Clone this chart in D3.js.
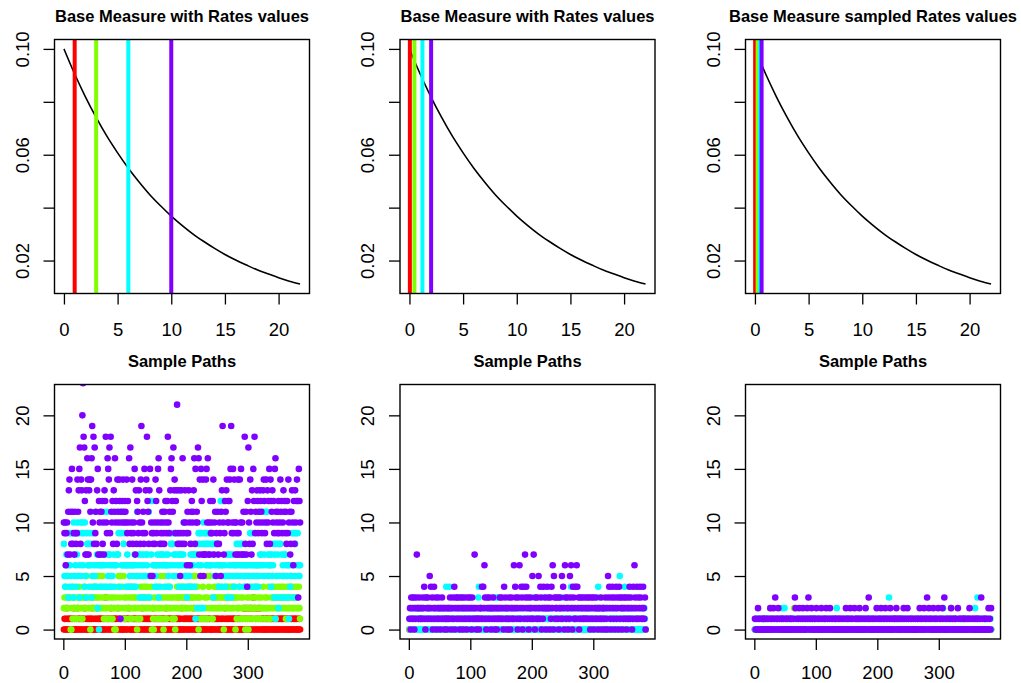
<!DOCTYPE html>
<html lang="en">
<head>
<meta charset="UTF-8">
<title>Base Measure and Sample Paths</title>
<script src="https://d3js.org/d3.v7.min.js"></script>
<style>
  body { margin: 0; background: #fff; }
  svg text { font-family: "Liberation Sans", Arial, Helvetica, sans-serif; }
</style>
</head>
<body>
<div id="chart"></div>
<script>
// colours: rainbow(4)
const colors = ["#FF0000", "#80FF00", "#00FFFF", "#8000FF"];

const topTitles = ["Base Measure with Rates values", "Base Measure with Rates values", "Base Measure sampled Rates values"];
const bottomTitle = "Sample Paths";

// rate values drawn as vertical lines
const rates1 = [1, 3, 6, 10];
const rates2 = [0.04, 0.46, 1.21, 2.02];
const rates3 = [0.02, 0.25, 0.47, 0.62];

// base measure density
const densX = [0, 1, 2, 3, 4, 5, 6, 7, 8, 9, 10, 11, 12, 13, 14, 15, 16, 17, 18, 19, 20, 21, 22];
const densY = [0.1, 0.0905, 0.0819, 0.0741, 0.067, 0.0607, 0.0549, 0.0497, 0.0449, 0.0407, 0.0368,
               0.0333, 0.0301, 0.0273, 0.0247, 0.0223, 0.0202, 0.0183, 0.0165, 0.015, 0.0135, 0.0122, 0.0111];

const topXTicks = [0, 5, 10, 15, 20];
const topYTicks = [0.02, 0.04, 0.06, 0.08, 0.10];
const topYLabels = ["0.02", "", "0.06", "", "0.10"];
const pathXTicks = [0, 100, 200, 300];
const pathYTicks = [0, 5, 10, 15, 20];
const pathYLabels = ["0", "5", "10", "15", "20"];
const pathYLim = [0, 22];

// sample paths, one character per time step (base 36: a=10, b=11 ...)
const p1Red =
  "0101021010" + "1010102100" + "1020110101" + "0110201010" + "1010112010" +
  "0101201101" + "1010101031" + "0110102101" + "0101101021" + "1010100110" +
  "1010112010" + "0101011010" + "1011010210" + "1010101101" + "0101021010" +
  "1010101011" + "0101012010" + "1010101101" + "0101101010" + "1020101011" +
  "0101011010" + "1201010101" + "0101010010" + "1001101100" + "0101011010" +
  "1100100110" + "0120101010" + "1010101101" + "0011010100" + "0120210210" +
  "2012021032" + "0210201202" + "1001100101" + "0101010110" + "0110010101" +
  "0101101010" + "1010101001" + "1001011010" + "01010";
const p1Green =
  "2324235233" + "3002143321" + "2132243123" + "1232432532" + "6230243234" +
  "2342352342" + "5235213213" + "2137142321" + "3202037245" + "2351241532" +
  "1324223142" + "3124322310" + "2132143234" + "2342324325" + "3240210326" +
  "2132412531" + "2305213124" + "3242321312" + "1032432342" + "3243234232" +
  "2343243243" + "3524532430" + "2315214513" + "2153124562" + "1312342324" +
  "3243234623" + "0324323423" + "2432432340" + "3123224132" + "1321402132" +
  "0132242132" + "2134612312" + "1322421322" + "3214261324" + "3243123423" +
  "2432342342" + "3124323423" + "4232432342" + "32421";
const p1Cyan =
  "8546756394" + "695493a756" + "47a5936a59" + "a694a53986" + "8496835964" +
  "5b64726076" + "46746b7464" + "b756475645" + "6746c6b779" + "c4b96b6896" +
  "6467646546" + "465647645b" + "5673576357" + "65375675b3" + "5c75c65645" +
  "6476367467" + "76b4676467" + "5649869857" + "6975967467" + "57647a5654" +
  "3564567467" + "6747178269" + "8926982a98" + "9689689698" + "6873856858" +
  "5646bc564c" + "c564573576" + "5736574656" + "5865846586" + "8564565645" +
  "6549659654" + "5645654657" + "67b56b75b6" + "b576576475" + "6837185372" +
  "8583756375" + "7635631645" + "5963958963" + "95656";
const p1Purple =
  "a9a69a7bde" + "7b8fb897b9" + "89ebdfh8ed" + "knihc7d7ge" + "7debegjai8" +
  "h9b8df7cab" + "7bc8a7dcia" + "9gfeh9ibac" + "8dbgac8eba" + "ec1bacebac" +
  "bae9cag8h9" + "ae89af7d8c" + "b9da8eja9b" + "8f9deicb8d" + "f5a9589a8e" +
  "c9afgd8a98" + "ba98bca9ci" + "a9bdfgcbhd" + "e9cdl89d85" + "9d8g9a8da9" +
  "6b9da68bca" + "bdg8fabahg" + "7e5fc7e577" + "7efag7a7c9" + "a9ce7ab598" +
  "b78a95bdja" + "79cbdeacac" + "efj9af9ea7" + "a97e97eaf7" + "a7b7i8b74c" +
  "ha8eb7d8fc" + "i9badc9bad" + "cb9adec9ae" + "8dacf8ecbd" + "ac9fgba9bc" +
  "9aebc9adbc" + "9b8c9eab78" + "bda6c8dace" + "c3fca";

const p2Red =
  "0000000000" + "0000010000" + "0000000000" + "0000000001" + "0000000000" +
  "0000000000" + "0100000000" + "0000000000" + "0000001000" + "0000000000" +
  "0000000000" + "0000000000" + "0010000000" + "0000000000" + "0000000000" +
  "0000000100" + "0000000000" + "0000000000" + "0000000000" + "1000000000" +
  "0000000000" + "0000000000" + "0000010000" + "0000000000" + "0000000000" +
  "0000000000" + "0000000001" + "0000000000" + "0000000000" + "0000000000" +
  "0000000000" + "0001000000" + "0000000000" + "0000000000" + "0000000000" +
  "0000000100" + "0000000000" + "0000000000" + "00000";
const p2Green =
  "0100020010" + "1000100200" + "0010010001" + "0200100010" + "0001001200" +
  "1000010010" + "0010200001" + "0100100010" + "0001000210" + "1000100100" +
  "0020010001" + "0100001020" + "0001000100" + "1002000010" + "0100100001" +
  "0010010200" + "1000001010" + "0100200001" + "0010010100" + "0001002000" +
  "1000100010" + "0210000100" + "0001010002" + "0100100010" + "0010000201" +
  "1000100010" + "0100020001" + "0001001000" + "0010100200" + "1000001010" +
  "0020010000" + "0100300100" + "0001001020" + "1000100001" + "0010020100" +
  "0100001001" + "0001010200" + "1000100010" + "01000";
const p2Cyan =
  "1021013012" + "0112010102" + "1021103101" + "2011021010" + "1201102101" +
  "0121010211" + "4102140120" + "1102101301" + "2011021012" + "0110210110" +
  "1201012101" + "0134102101" + "1021011020" + "1201012031" + "0231031021" +
  "1012010210" + "2101102101" + "0120110210" + "1012011021" + "0101201102" +
  "1013021011" + "0210120103" + "1102101120" + "1021011021" + "0110210103" +
  "1021011201" + "0124101201" + "1021012120" + "0102010020" + "1201102101" +
  "0121013410" + "2101201102" + "1021020110" + "1201012101" + "0151021012" +
  "4101201102" + "1021010100" + "1002010012" + "10210";
const p2Purple =
  "1203121302" + "1372213211" + "2132410321" + "3215241302" + "4123012312" +
  "0213212012" + "1021213201" + "2314023123" + "1203123021" + "3210231231" +
  "2031217210" + "1210122141" + "4263102312" + "3120213210" + "2102121321" +
  "3210423120" + "1231023121" + "6243120316" + "2143024173" + "4213021321" +
  "5172031231" + "5214302142" + "2302423203" + "1426053123" + "2130231251" +
  "4206312302" + "1536204312" + "4164230132" + "1321132113" + "2132013213" +
  "0213212021" + "2310221203" + "1205342103" + "4213024132" + "0431230213" +
  "2130213241" + "3201426312" + "4131243121" + "42130";

const p3Red =
  "0000000000" + "0000000000" + "0000001000" + "0000000000" + "0000000000" +
  "0000000000" + "0000000000" + "0000000000" + "0000000000" + "0001000000" +
  "0000000000" + "0000000000" + "0000000000" + "0000000000" + "0000000000" +
  "0000000000" + "0000000010" + "0000000000" + "0000000000" + "0000000000" +
  "0000000000" + "0000000000" + "0000000000" + "0100000000" + "0000000000" +
  "0000000000" + "0000000000" + "0000000000" + "0000000000" + "0000000000" +
  "0000010000" + "0000000000" + "0000000000" + "0000000000" + "0000000000" +
  "0000000000" + "0000000000" + "0000000000" + "00000";
const p3Green =
  "0000100000" + "0001000010" + "0000020000" + "1000000100" + "0000100000" +
  "0010000001" + "0000200000" + "0100000010" + "0000010000" + "1000000100" +
  "0001000000" + "0000100001" + "0000000000" + "0100001000" + "0000000100" +
  "0010000000" + "0000100000" + "1000000010" + "0000010000" + "0100000000" +
  "0000100000" + "0010000001" + "0000010000" + "1000000100" + "0000000000" +
  "0001000010" + "0000100000" + "0100000000" + "0000001000" + "0010000000" +
  "0000100001" + "0000000002" + "0100000000" + "0000010000" + "1000000100" +
  "0000000000" + "0010000010" + "0000100000" + "00000";
const p3Cyan =
  "0100010010" + "0010100001" + "1000100100" + "0010001000" + "0100201020" +
  "0001000100" + "1000100001" + "0100010010" + "0010001000" + "1000100100" +
  "0100010001" + "0010100000" + "1000010010" + "0102000100" + "0000100010" +
  "1001000100" + "0000010001" + "0100100000" + "1000010100" + "0010000001" +
  "0100100010" + "0000100030" + "1001000100" + "0000100001" + "0011000100" +
  "1000010000" + "0100100010" + "0001000100" + "1000100001" + "0010001000" +
  "0100002010" + "1000100001" + "0010010000" + "0100001001" + "1000100010" +
  "0010000120" + "0130010000" + "1000100100" + "01010";
const p3Purple =
  "1010021010" + "0100110100" + "1010021001" + "2013010120" + "1001101001" +
  "0101001010" + "1001032010" + "0120100120" + "1001021301" + "0120100110" +
  "2010100120" + "1001012010" + "0120101001" + "0101001010" + "1001010021" +
  "0100120101" + "0021010010" + "2100101001" + "2010130100" + "1010010120" +
  "0101021001" + "0120101001" + "2010010110" + "2100101010" + "0120100120" +
  "1001010010" + "0100101021" + "0100120101" + "3012010100" + "2100101020" +
  "1010021030" + "0101001012" + "0100101100" + "2010100101" + "0101001012" +
  "0100101001" + "0101001030" + "1001010010" + "20102";

const topRates = [rates1, rates2, rates3];
const bottomPaths = [
  [p1Red, p1Green, p1Cyan, p1Purple],
  [p2Red, p2Green, p2Cyan, p2Purple],
  [p3Red, p3Green, p3Cyan, p3Purple]
];

const colLeft = [54.5, 400, 745.5];
const boxW = 255;
const rowBox = [{top: 39.5, bottom: 293.5, labelPad: 18.5},
                {top: 384.5, bottom: 639, labelPad: 15.4}];
const tickLen = 11;

const svg = d3.select("#chart").append("svg")
    .attr("width", 1021)
    .attr("height", 683);

// R style 4% padding of the data range
function padded(lo, hi) {
  const d = (hi - lo) * 0.04;
  return [lo - d, hi + d];
}

const parsePath = s => Array.from(s, c => parseInt(c, 36));

function clipFor(id, left, b) {
  svg.append("clipPath").attr("id", id)
    .append("rect")
      .attr("x", left).attr("y", b.top)
      .attr("width", boxW).attr("height", b.bottom - b.top);
  return `url(#${id})`;
}

function drawFrame(i, r, x, y, title, xTicks, yTicks, yLabels) {
  const left = colLeft[i], b = rowBox[r];

  svg.append("text")
      .attr("x", left + boxW / 2)
      .attr("y", b.top - 18)
      .attr("text-anchor", "middle")
      .style("font-weight", "bold")
      .style("font-size", "16.5px")
      .text(title);

  const gx = svg.append("g")
      .attr("transform", `translate(0,${b.bottom})`)
      .call(d3.axisBottom(x).tickValues(xTicks).tickSize(tickLen).tickPadding(b.labelPad).tickFormat(d3.format("d")));
  gx.select(".domain").remove();

  const gy = svg.append("g")
      .attr("transform", `translate(${left},0)`)
      .call(d3.axisLeft(y).tickValues(yTicks).tickSize(tickLen).tickFormat((d, k) => yLabels[k]));
  gy.select(".domain").remove();
  gy.selectAll(".tick text")
      .attr("x", null)
      .attr("dy", null)
      .attr("transform", "translate(-26,0) rotate(-90)")
      .attr("text-anchor", "middle");

  [gx, gy].forEach(g => {
    g.attr("font-size", 18.5).attr("font-family", null);
    g.selectAll(".tick line").attr("stroke", "#000").attr("stroke-width", 1.3);
    g.selectAll(".tick text").attr("fill", "#000");
  });

  svg.append("rect")
      .attr("x", left).attr("y", b.top)
      .attr("width", boxW).attr("height", b.bottom - b.top)
      .attr("fill", "none")
      .attr("stroke", "#000")
      .attr("stroke-width", 1.4);
}

// top row: base measure with rate lines
topRates.forEach((rates, i) => {
  const left = colLeft[i], b = rowBox[0];
  const x = d3.scaleLinear().domain(padded(0, d3.max(densX))).range([left, left + boxW]);
  const y = d3.scaleLinear().domain(padded(d3.min(densY), d3.max(densY))).range([b.bottom, b.top]);
  const g = svg.append("g").attr("clip-path", clipFor("clipTop" + i, left, b));

  const line = d3.line()
      .x((d, k) => x(densX[k]))
      .y(d => y(d))
      .curve(d3.curveMonotoneX);
  g.append("path")
      .datum(densY)
      .attr("d", line)
      .attr("fill", "none")
      .attr("stroke", "#000")
      .attr("stroke-width", 1.6);

  g.selectAll("line.rate")
    .data(rates)
    .join("line")
      .attr("class", "rate")
      .attr("x1", d => x(d)).attr("x2", d => x(d))
      .attr("y1", b.top).attr("y2", b.bottom)
      .attr("stroke", (d, j) => colors[j])
      .attr("stroke-width", 4);

  drawFrame(i, 0, x, y, topTitles[i], topXTicks, topYTicks, topYLabels);
});

// bottom row: sample paths
bottomPaths.forEach((paths, i) => {
  const left = colLeft[i], b = rowBox[1];
  const series = paths.map(parsePath);
  const n = d3.max(series, s => s.length);
  const x = d3.scaleLinear().domain(padded(1, n)).range([left, left + boxW]);
  const y = d3.scaleLinear().domain(padded(pathYLim[0], pathYLim[1])).range([b.bottom, b.top]);
  const g = svg.append("g").attr("clip-path", clipFor("clipBottom" + i, left, b));

  series.forEach((vals, j) => {
    g.append("g").selectAll("circle")
      .data(vals)
      .join("circle")
        .attr("cx", (d, k) => x(k + 1))
        .attr("cy", d => y(d))
        .attr("r", 3.3)
        .attr("fill", colors[j]);
  });

  drawFrame(i, 1, x, y, bottomTitle, pathXTicks, pathYTicks, pathYLabels);
});
</script>
</body>
</html>
